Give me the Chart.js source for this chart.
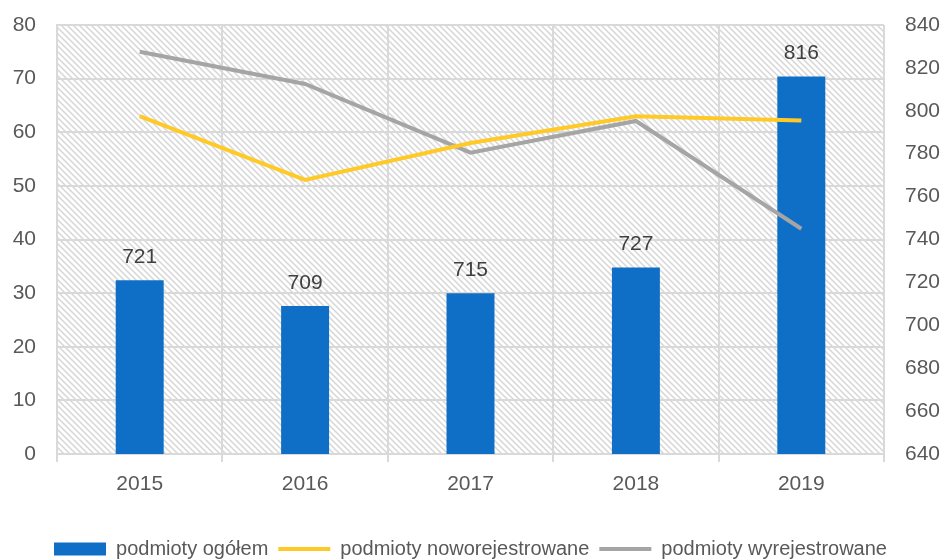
<!DOCTYPE html>
<html>
<head>
<meta charset="utf-8">
<script src="https://cdn.jsdelivr.net/npm/chart.js@4.4.0/dist/chart.umd.min.js"></script>
<style>
    html, body { margin: 0; padding: 0; background: #fff; }
    .chart-box { width: 941px; height: 559px; }
</style>
</head>
<body>
<div class="chart-box"><canvas id="entitiesChart"></canvas></div>
<script>
const years = ['2015', '2016', '2017', '2018', '2019'];
const totalEntities = [721, 709, 715, 727, 816];
const newlyRegistered = [63.0, 51.1, 58.0, 63.0, 62.2];
const deregistered = [75.0, 69.0, 56.2, 62.1, 42.0];
const leftAxisRange = [0, 80, 10];
const rightAxisRange = [640, 840, 20];

const FONT = "'Liberation Sans', Arial, sans-serif";
const TEXT = '#595959';
const GRID = '#d9d9d9';

// Hatched plot background
function makeHatch() {
    const c = document.createElement('canvas');
    c.width = 6; c.height = 6;
    const g = c.getContext('2d');
    g.strokeStyle = '#d6d6d6';
    g.lineWidth = 1.5;
    g.beginPath();
    g.moveTo(-1, -1); g.lineTo(7, 7);
    g.moveTo(-1, 5); g.lineTo(1, 7);
    g.moveTo(5, -1); g.lineTo(7, 1);
    g.stroke();
    return g.createPattern(c, 'repeat');
}

const hatchBackground = {
    id: 'hatchBackground',
    beforeDraw(chart) {
        const { ctx, chartArea: a } = chart;
        ctx.save();
        ctx.fillStyle = makeHatch();
        ctx.fillRect(a.left, a.top, a.right - a.left, a.bottom - a.top);
        ctx.restore();
    }
};

// Value labels above the bars
const barLabels = {
    id: 'barLabels',
    afterDatasetsDraw(chart) {
        const { ctx } = chart;
        const meta = chart.getDatasetMeta(0);
        ctx.save();
        ctx.font = '21px ' + FONT;
        ctx.fillStyle = '#404040';
        ctx.textAlign = 'center';
        ctx.textBaseline = 'alphabetic';
        meta.data.forEach((bar, i) => {
            ctx.fillText(String(totalEntities[i]), bar.x, bar.y - 17);
        });
        ctx.restore();
    }
};

// fixed side width, no extra label padding above/below
function fitSide(s) {
    s.width = 57;
    s.paddingTop = 0;
    s.paddingBottom = 0;
}

const ctx = document.getElementById('entitiesChart').getContext('2d');
new Chart(ctx, {
    data: {
        labels: years,
        datasets: [{
            type: 'bar',
            label: 'podmioty ogółem',
            data: totalEntities,
            backgroundColor: '#0f6fc6',
            borderWidth: 0,
            yAxisID: 'y1',
            categoryPercentage: 1,
            barPercentage: 0.29,
            pointStyle: 'rect',
            order: 2
        }, {
            type: 'line',
            label: 'podmioty noworejestrowane',
            data: newlyRegistered,
            borderColor: '#ffca28',
            backgroundColor: '#ffca28',
            borderWidth: 4,
            pointRadius: 0,
            pointStyle: 'line',
            tension: 0,
            yAxisID: 'y',
            order: 1
        }, {
            type: 'line',
            label: 'podmioty wyrejestrowane',
            data: deregistered,
            borderColor: '#a5a5a5',
            backgroundColor: '#a5a5a5',
            borderWidth: 4,
            pointRadius: 0,
            pointStyle: 'line',
            tension: 0,
            yAxisID: 'y',
            order: 1
        }]
    },
    options: {
        responsive: true,
        maintainAspectRatio: false,
        animation: false,
        layout: { padding: { top: 25, left: 0, right: 0, bottom: -10 } },
        scales: {
            x: {
                offset: true,
                grid: { offset: true, color: GRID, lineWidth: 2, tickLength: 8, tickColor: GRID },
                border: { color: GRID, width: 2 },
                ticks: { color: TEXT, font: { family: FONT, size: 21 }, padding: 10 },
                afterFit(s) { s.height = 75; }
            },
            y: {
                position: 'left',
                min: leftAxisRange[0],
                max: leftAxisRange[1],
                ticks: { stepSize: leftAxisRange[2], color: TEXT, font: { family: FONT, size: 21 }, padding: 21 },
                grid: { color: GRID, lineWidth: 2, drawTicks: false },
                border: { color: GRID, width: 2 },
                afterFit: fitSide
            },
            y1: {
                position: 'right',
                min: rightAxisRange[0],
                max: rightAxisRange[1],
                ticks: { stepSize: rightAxisRange[2], color: TEXT, font: { family: FONT, size: 21 }, padding: 21 },
                grid: { display: false, drawTicks: false },
                border: { display: false },
                afterFit: fitSide
            }
        },
        plugins: {
            legend: {
                position: 'bottom',
                labels: {
                    usePointStyle: true,
                    pointStyleWidth: 52,
                    boxHeight: 13,
                    color: TEXT,
                    padding: 10,
                    font: { family: FONT, size: 20 },
                    sort: (a, b) => a.datasetIndex - b.datasetIndex
                }
            },
            tooltip: { enabled: false }
        }
    },
    plugins: [hatchBackground, barLabels]
});
</script>
</body>
</html>
